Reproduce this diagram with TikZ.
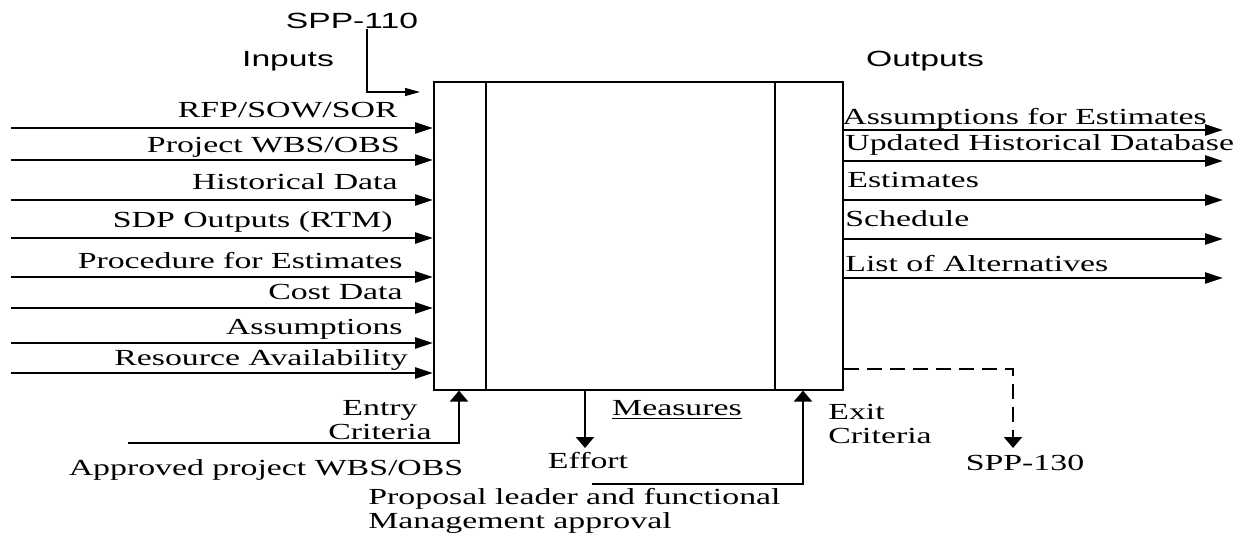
\documentclass[tikz,border=0pt]{standalone}
\usepackage{fontspec}
\setmainfont{Liberation Serif}[FakeStretch=1.47]
\newfontfamily\labelsans{Liberation Sans}[FakeStretch=1.53]
\usetikzlibrary{arrows.meta,positioning}

\begin{document}
\begin{tikzpicture}[x=0.5pt,y=-0.5pt,
    every node/.style={inner sep=0pt,font=\fontsize{11.5}{12.2}\selectfont},
    sanslabel/.style={font=\labelsans\fontsize{11}{12}\selectfont},
    hflow/.style={line width=1.2pt,-{Triangle[length=9pt,width=5.5pt]}},
    vflow/.style={line width=1.2pt,-{Triangle[length=5.5pt,width=9pt]}}]

  \useasboundingbox (0,0) rectangle (1256,533);

  % Define the process box
  \node[draw,line width=0.8pt,minimum width=204.5pt,minimum height=154pt,
        anchor=north west] (box) at (433,81) {};
  \coordinate (divL) at (486,0);
  \coordinate (divR) at (775,0);
  \draw[line width=1pt] (box.north -| divL) -- (box.south -| divL);
  \draw[line width=1pt] (box.north -| divR) -- (box.south -| divR);

  % Headings
  \node[sanslabel] (spp110) at (352,21) {SPP-110};
  \node[sanslabel] (inputs) at (288,61) {Inputs};
  \node[sanslabel] (outputs) at (925,61) {Outputs};
  \coordinate (spp110end) at (420,92);
  \draw[line width=0.6pt,-{Triangle[length=7.5pt,width=4pt]}]
    (spp110.south -| 367,0) |- (spp110end);

  %Draw all the inputs
  \foreach \y/\xe/\off/\txt [count=\i] in {
      128/398/10/{RFP/SOW/SOR},
      160/400/7/{Project WBS/OBS},
      200/398/10/{Historical Data},
      238/393/10/{SDP Outputs (RTM)},
      277/403/8/{Procedure for Estimates},
      308/403/8/{Cost Data},
      343/403/8/{Assumptions},
      373/408/7/{Resource Availability}}{
    \coordinate (in\i) at (11,\y);
    \draw[hflow] (in\i) -- (in\i -| box.west);
    \node[anchor=base east] (inlabel\i) at (\xe,\y-\off) {\txt};
  }

  %Draw all the outputs
  \foreach \y/\xs/\off/\txt [count=\i] in {
      130/842/5/{Assumptions for Estimates},
      161/845/10/{Updated Historical Database},
      200/847/12/{Estimates},
      239/845/12/{Schedule},
      278/845/6/{List of Alternatives}}{
    \coordinate (out\i) at (1223,\y);
    \draw[hflow] (out\i -| box.east) -- (out\i);
    \node[anchor=base west] (outlabel\i) at (\xs,\y-\off) {\txt};
  }

  % Entry criteria
  \coordinate (entrystart) at (128,443);
  \coordinate (entrycol) at (459,0);
  \draw[vflow] (entrystart) -| (box.south -| entrycol);
  \node[align=center] (entry) at (380,420) {Entry\\Criteria};
  \node (approved) at (266,470) {Approved project WBS/OBS};

  % Measures
  \node (measures) at (677,410) {\underline{Measures}};
  \node (effort) at (588,461) {Effort};
  \draw[vflow] (box.south -| 585,0) -- (585,448);

  % Exit criteria
  \coordinate (exitstart) at (592,484);
  \coordinate (exitcol) at (803,0);
  \draw[vflow] (exitstart) -| (box.south -| exitcol);
  \node[align=left,anchor=west] (exit) at (828,424) {Exit\\Criteria};
  \node[align=left,anchor=north west] (approval) at (368,488)
    {Proposal leader and functional\\Management approval};

  % Next process
  \node (spp130) at (1025,463) {SPP-130};
  \coordinate (dashstart) at (box.east |- 0,369);
  \coordinate (dashend) at (1013,448);
  \draw[vflow,line width=1pt,dash pattern=on 7.5pt off 4pt]
    (dashstart) -| (dashend);
\end{tikzpicture}
\end{document}
